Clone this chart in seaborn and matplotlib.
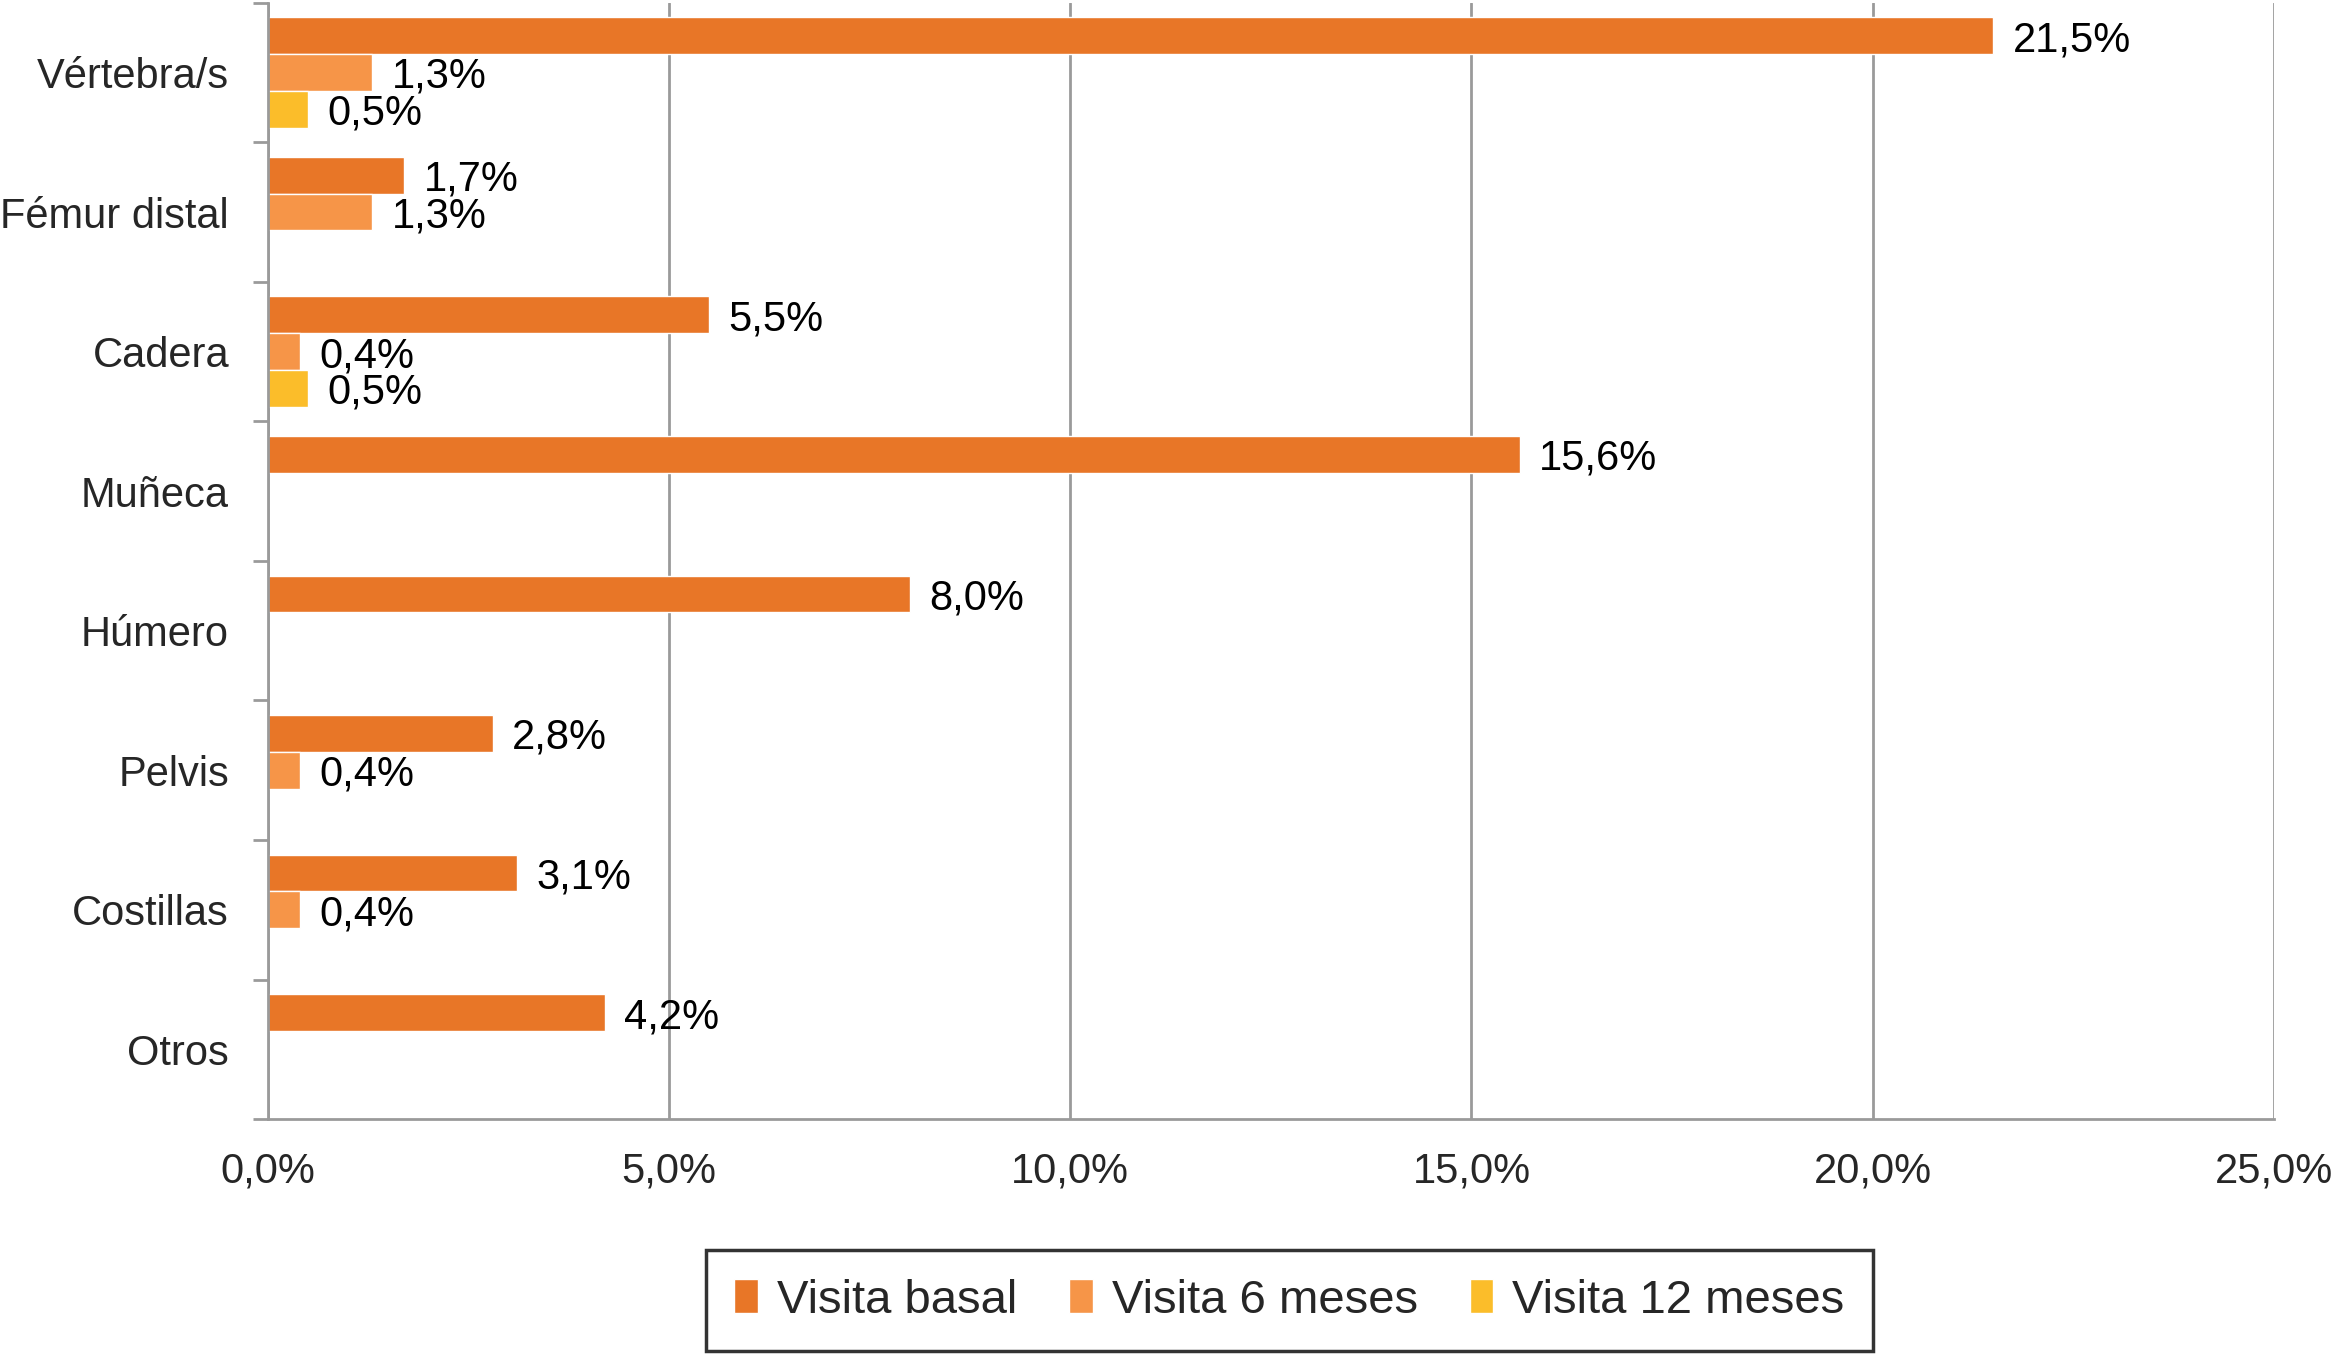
import pandas as pd
import numpy as np
import matplotlib
matplotlib.use("Agg")
import matplotlib.pyplot as plt
from matplotlib.ticker import FuncFormatter, FixedLocator
import seaborn as sns

# data (percent of patients)
categorias = ["Vértebra/s", "Fémur distal", "Cadera", "Muñeca", "Húmero", "Pelvis", "Costillas", "Otros"]
visita_basal = [21.5, 1.7, 5.5, 15.6, 8.0, 2.8, 3.1, 4.2]
visita_6m = [1.3, 1.3, 0.4, 0.0, 0.0, 0.4, 0.4, 0.0]
visita_12m = [0.5, 0.0, 0.5, 0.0, 0.0, 0.0, 0.0, 0.0]
series = ["Visita basal", "Visita 6 meses", "Visita 12 meses"]
colores = ["#E87627", "#F69548", "#FBBD2A"]

# long format for seaborn
dtf = pd.DataFrame({
    "cat": categorias * 3,
    "serie": [series[0]] * 8 + [series[1]] * 8 + [series[2]] * 8,
    "valor": visita_basal + visita_6m + visita_12m,
})

sns.set_style("white")
plt.rcParams["font.family"] = ["Liberation Sans", "DejaVu Sans"]

fig = plt.figure(figsize=(23.36, 13.54), dpi=100)
ax = fig.add_axes([0.1147, 0.1735, 0.8587, 0.8245])

sns.barplot(data=dtf, x="valor", y="cat", hue="serie", order=categorias,
            hue_order=series, palette=colores, orient="h", width=0.79,
            saturation=1, errorbar=None, ax=ax, legend=True)

# value labels, skip empty bars
for cont in ax.containers:
    labs = []
    for b in cont:
        w = b.get_width()
        labs.append(f"{w:.1f}".replace(".", ",") + "%" if w > 0 else "")
    texts = ax.bar_label(cont, labels=labs, padding=14, fontsize=30, color="black")
    for t in texts:
        t.set_va("center_baseline")

ax.set_xlim(0, 25)
ax.set_ylim(7.5, -0.5)
ax.set_xticks(np.arange(0, 26, 5))
ax.xaxis.set_major_formatter(FuncFormatter(lambda v, p: f"{v:.1f}".replace(".", ",") + "%"))
ax.set_xlabel("")
ax.set_ylabel("")

gris = "#9A9A9A"
ax.grid(axis="x", color=gris, linewidth=2)
ax.grid(axis="y", visible=False)
ax.set_axisbelow(True)
for s in ["top", "right"]:
    ax.spines[s].set_visible(False)
for s in ["left", "bottom"]:
    ax.spines[s].set_color(gris)
    ax.spines[s].set_linewidth(2)

ax.tick_params(axis="x", length=11, width=2, color=gris, labelsize=30, pad=12, direction="out")
ax.tick_params(axis="y", which="major", length=0, labelsize=30, pad=28)
ax.yaxis.set_minor_locator(FixedLocator(np.arange(-0.5, 8, 1)))
ax.tick_params(axis="y", which="minor", length=11, width=2, color=gris, direction="out", left=True)

handles, labels = ax.get_legend_handles_labels()
ax.get_legend().remove()
leg = fig.legend(handles, labels, loc="center", bbox_to_anchor=(0.552, 0.0395), ncol=3,
                 fontsize=34, frameon=True, fancybox=False, edgecolor="black",
                 handlelength=0.5, handleheight=0.75, handletextpad=0.4,
                 columnspacing=1.1, borderpad=0.6)
leg.get_frame().set_linewidth(2.5)

fig.savefig("out.png", dpi=100)
